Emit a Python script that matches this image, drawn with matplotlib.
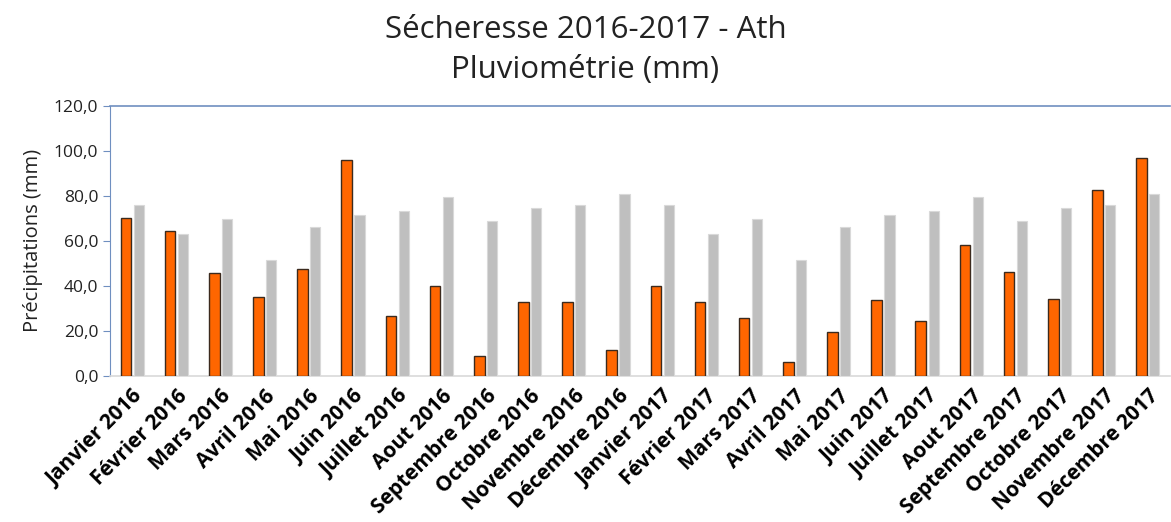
import numpy as np
import matplotlib.pyplot as plt
from matplotlib.ticker import FuncFormatter

plt.rcParams['font.family'] = ['Open Sans', 'DejaVu Sans']

months = ["Janvier 2016", "Février 2016", "Mars 2016", "Avril 2016", "Mai 2016",
          "Juin 2016", "Juillet 2016", "Aout 2016", "Septembre 2016", "Octobre 2016",
          "Novembre 2016", "Décembre 2016", "Janvier 2017", "Février 2017", "Mars 2017",
          "Avril 2017", "Mai 2017", "Juin 2017", "Juillet 2017", "Aout 2017",
          "Septembre 2017", "Octobre 2017", "Novembre 2017", "Décembre 2017"]

# mesures (orange)
pluie = [70.4, 64.3, 45.8, 35.0, 47.4, 96.0, 26.4, 40.0, 8.6, 32.7, 32.7, 11.4,
         40.0, 32.7, 25.5, 6.1, 19.7, 33.6, 24.6, 58.2, 46.1, 34.1, 82.5, 96.7]
# normales (gris)
normale = [76.1, 63.1, 69.8, 51.4, 66.4, 71.7, 73.2, 79.4, 68.7, 74.5, 76.1, 80.9,
           76.1, 63.1, 69.8, 51.4, 66.4, 71.7, 73.2, 79.4, 68.7, 74.5, 76.1, 80.9]

x = np.arange(len(months))

fig = plt.figure(figsize=(11.71, 5.22), dpi=100)
ax = fig.add_axes([0.094, 0.280, 0.905, 0.517])

ax.bar(x - 0.14, pluie, width=0.24, color='#FF6600', edgecolor='#3b2a1e', linewidth=1.0, zorder=3)
ax.bar(x + 0.15, normale, width=0.23, color='#BFBFBF', edgecolor='#d9d9d9', linewidth=0.8, zorder=3)

ax.set_xlim(-0.5, len(months) - 0.5)
ax.set_ylim(0, 120)
ax.set_yticks(np.arange(0, 121, 20))
ax.yaxis.set_major_formatter(FuncFormatter(lambda v, p: f"{v:.1f}".replace('.', ',')))
ax.tick_params(axis='y', labelsize=12.5, length=5, color='#6f8fc0', colors='#222222')
ax.tick_params(axis='y', color='#6f8fc0')

ax.set_xticks(x)
ax.set_xticklabels(months, rotation=45, ha='right', rotation_mode='anchor',
                   fontsize=15, fontweight='bold', color='black')
ax.tick_params(axis='x', length=0, pad=7)

ax.spines['right'].set_visible(False)
ax.spines['left'].set_color('#6f8fc0')
ax.spines['top'].set_color('#6f8fc0')
ax.spines['top'].set_linewidth(1.2)
ax.spines['bottom'].set_color('#d9d9d9')
ax.spines['bottom'].set_linewidth(1.2)

ax.set_ylabel("Précipitations (mm)", fontsize=14.5, color='#222222', labelpad=8)

fig.text(0.5, 0.942, "Sécheresse 2016-2017 - Ath", ha='center', va='center', fontsize=22.5, color='#222222')
fig.text(0.5, 0.866, "Pluviométrie (mm)", ha='center', va='center', fontsize=22.5, color='#222222')

fig.savefig("out.png", dpi=100, facecolor='white')
